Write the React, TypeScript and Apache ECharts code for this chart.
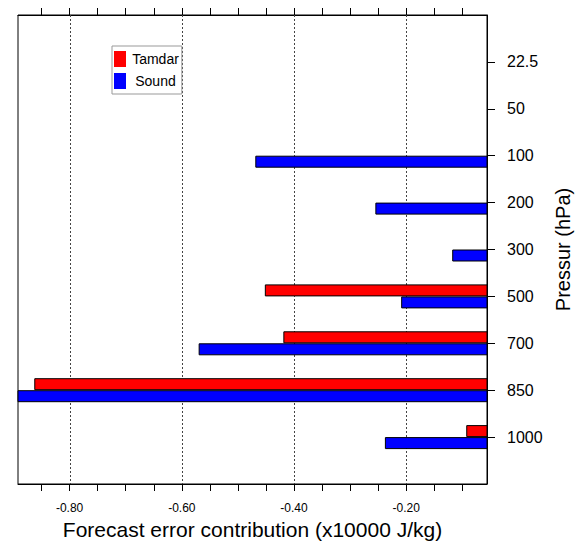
import { useEffect, useRef } from 'react';
import * as echarts from 'echarts';

const levels = ['22.5', '50', '100', '200', '300', '500', '700', '850', '1000'];
const tamdar = [null, null, null, null, null, -0.452, -0.419, -0.863, -0.093];
const sound = [null, null, -0.469, -0.255, -0.118, -0.209, -0.57, -0.897, -0.238];
const majorTicks = [-0.8, -0.6, -0.4, -0.2];
const allTicks = [-0.85, -0.8, -0.75, -0.7, -0.65, -0.6, -0.55, -0.5, -0.45, -0.4, -0.35, -0.3, -0.25, -0.2, -0.15, -0.1];
const xMin = -0.892;
const xMax = -0.056;

const FONT = '"Liberation Sans", Arial, Helvetica, sans-serif';

export default function App() {
  const ref = useRef<HTMLDivElement>(null);
  useEffect(() => {
    if (!ref.current) return;
    const chart = echarts.init(ref.current, undefined, { renderer: 'svg' });
    const categories = ['', ...levels, ''];
    const tData = [null, ...tamdar, null];
    const sData = [null, ...sound, null];
    const tickStyle = { show: true, inside: false, length: 7, customValues: allTicks, lineStyle: { color: '#000', width: 1 } };
    chart.setOption({
      animation: false,
      backgroundColor: '#fff',
      grid: { left: 18, right: 101, top: 15, bottom: 64, show: true, borderColor: '#000', borderWidth: 1, backgroundColor: 'transparent' },
      legend: {
        data: ['Tamdar', 'Sound'],
        orient: 'vertical',
        left: 112,
        top: 46,
        itemWidth: 12,
        itemHeight: 16,
        itemGap: 6,
        padding: [5, 3, 5, 2],
        borderColor: '#999',
        borderWidth: 1,
        icon: 'rect',
        itemStyle: { borderWidth: 0 },
        formatter: (name: string) => `{a|${name}}`,
        textStyle: {
          fontSize: 14,
          fontFamily: FONT,
          color: '#000',
          rich: { a: { width: 49, align: 'center', fontSize: 14, fontFamily: FONT, color: '#000' } },
        },
      },
      xAxis: [
        {
          type: 'value',
          position: 'bottom',
          min: xMin,
          max: xMax,
          axisLine: { show: true, lineStyle: { color: '#000', width: 1 } },
          axisTick: tickStyle,
          axisLabel: {
            customValues: majorTicks,
            formatter: (v: number) => v.toFixed(2),
            margin: 18,
            fontSize: 12,
            color: '#000',
            fontFamily: FONT,
          },
          splitLine: { show: false },
          name: 'Forecast error contribution (x10000 J/kg)',
          nameLocation: 'middle',
          nameGap: 35,
          nameTextStyle: { fontSize: 21, color: '#000', fontFamily: FONT },
        },
        {
          type: 'value',
          position: 'top',
          min: xMin,
          max: xMax,
          axisLine: { show: true, lineStyle: { color: '#000', width: 1 } },
          axisTick: tickStyle,
          axisLabel: { show: false },
          splitLine: { show: false },
        },
      ],
      yAxis: {
        type: 'category',
        data: categories,
        inverse: true,
        boundaryGap: false,
        position: 'right',
        axisLine: { show: true, lineStyle: { color: '#000', width: 1 } },
        axisTick: {
          show: true,
          inside: false,
          length: 8,
          interval: (i: number) => i > 0 && i < categories.length - 1,
          lineStyle: { color: '#000', width: 1 },
        },
        axisLabel: { margin: 20, fontSize: 16, color: '#000', fontFamily: FONT },
        splitLine: { show: false },
        name: 'Pressur (hPa)',
        nameLocation: 'middle',
        nameGap: 63,
        nameTextStyle: { fontSize: 20, color: '#000', fontFamily: FONT },
      },
      series: [
        {
          type: 'custom',
          name: 'grid',
          z: 1,
          silent: true,
          xAxisIndex: 0,
          data: majorTicks.map((v) => [v, 0]),
          encode: { x: 0, y: 1 },
          renderItem: (params: any, api: any) => {
            const x = Math.round(api.coord([api.value(0), 0])[0]) + 0.5;
            const cs = params.coordSys;
            return {
              type: 'line',
              shape: { x1: x, y1: cs.y, x2: x, y2: cs.y + cs.height },
              style: { stroke: '#444', lineWidth: 1, lineDash: [2, 2] },
            };
          },
        },
        {
          type: 'bar',
          name: 'Tamdar',
          xAxisIndex: 0,
          data: tData,
          barWidth: 12,
          barGap: '0%',
          clip: true,
          z: 2,
          itemStyle: { color: '#ff0000', borderColor: '#000', borderWidth: 1 },
        },
        {
          type: 'bar',
          name: 'Sound',
          xAxisIndex: 0,
          data: sData,
          barWidth: 12,
          barGap: '0%',
          clip: true,
          z: 2,
          itemStyle: { color: '#0000ff', borderColor: '#000', borderWidth: 1 },
        },
      ],
    });
    return () => chart.dispose();
  }, []);
  return (
    <div
      ref={ref}
      style={{ position: 'absolute', left: 0, top: 0, width: 588, height: 548, background: '#fff' }}
    />
  );
}
